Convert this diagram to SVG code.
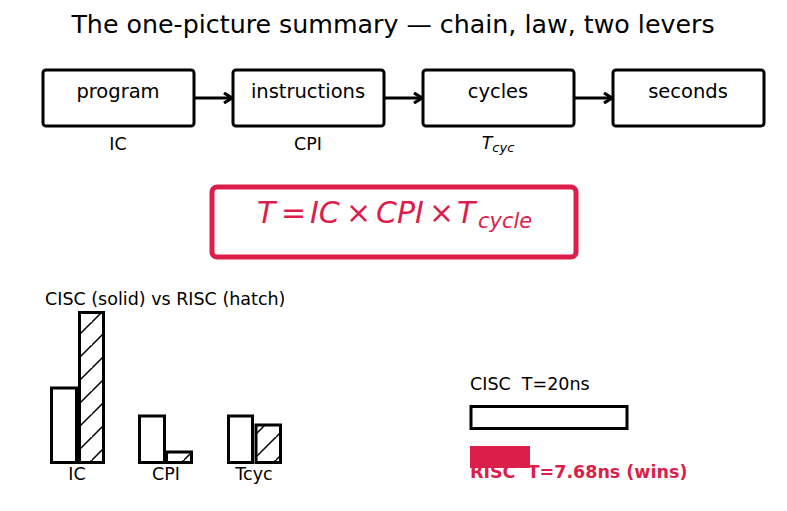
<svg xmlns="http://www.w3.org/2000/svg" width="787" height="511" viewBox="0 0 787 511">
<style>
text{font-family:"DejaVu Sans",sans-serif;fill:#000}
.box{fill:#fff;stroke:#000;stroke-width:3}
.lbl{font-size:19.5px;text-anchor:middle}
.sub{font-size:17.5px;text-anchor:middle}
.bar{fill:#fff;stroke:#000;stroke-width:3}
.hbar{fill:url(#hatch);stroke:#000;stroke-width:3}
.conn{stroke:#000;stroke-width:3;fill:none}
.red{fill:#dc1e4b}
</style>
<defs>
<marker id="arr" viewBox="0 0 12 12" refX="11" refY="6" markerWidth="12" markerHeight="12" markerUnits="userSpaceOnUse" orient="auto">
<path d="M3,1 L11,6 L3,11" fill="none" stroke="#000" stroke-width="3.2" stroke-linejoin="miter"/>
</marker>
<pattern id="hatch" patternUnits="userSpaceOnUse" x="0" y="0" width="23" height="23">
<rect width="23" height="23" fill="#fff"/>
<path d="M-2,25 L25,-2 M-25,25 L2,-2 M21,48 L48,21" stroke="#000" stroke-width="1.5"/>
</pattern>
</defs>
<rect width="787" height="511" fill="#fff"/>
<text x="393" y="33" style="font-size:25.3px;text-anchor:middle">The one-picture summary — chain, law, two levers</text>

<g id="connectors">
<line class="conn" x1="192" y1="98" x2="232" y2="98" marker-end="url(#arr)"/>
<line class="conn" x1="382" y1="98" x2="422" y2="98" marker-end="url(#arr)"/>
<line class="conn" x1="572" y1="98" x2="612" y2="98" marker-end="url(#arr)"/>
</g>

<g id="program">
<rect class="box" x="43" y="70" width="151" height="56" rx="3"/>
<text class="lbl" x="118" y="98">program</text>
<text class="sub" x="118" y="150">IC</text>
</g>
<g id="instructions">
<rect class="box" x="233" y="70" width="151" height="56" rx="3"/>
<text class="lbl" x="308" y="98">instructions</text>
<text class="sub" x="308" y="150">CPI</text>
</g>
<g id="cycles">
<rect class="box" x="423" y="70" width="151" height="56" rx="3"/>
<text class="lbl" x="498" y="98">cycles</text>
<text class="sub" x="498" y="149"><tspan font-style="italic">T</tspan><tspan font-style="italic" font-size="13" dy="3">cyc</tspan></text>
</g>
<g id="seconds">
<rect class="box" x="613" y="70" width="151" height="56" rx="3"/>
<text class="lbl" x="688" y="98">seconds</text>
</g>

<g id="formula">
<rect x="212" y="187" width="364" height="70" rx="5" fill="#fff" stroke="#dc1e4b" stroke-width="5"/>
<text y="223" class="red" style="font-size:30px"><tspan x="257" font-style="italic">T</tspan><tspan x="281">=</tspan><tspan x="310" font-style="italic">IC</tspan><tspan x="346">×</tspan><tspan x="376" font-style="italic">CPI</tspan><tspan x="429">×</tspan><tspan x="457" font-style="italic">T</tspan><tspan x="478" font-style="italic" font-size="21" dy="5">cycle</tspan></text>
</g>

<g id="barchart">
<text x="45" y="305" style="font-size:17.5px">CISC (solid) vs RISC (hatch)</text>
<rect class="bar" x="51.5" y="388" width="25" height="74.5"/>
<rect class="hbar" x="79.5" y="312.5" width="24" height="150"/>
<rect class="bar" x="139.5" y="416" width="25" height="46.5"/>
<rect class="hbar" x="166.5" y="452" width="25" height="10.5"/>
<rect class="bar" x="228.5" y="416" width="24" height="46.5"/>
<rect class="hbar" x="256" y="425" width="24.5" height="37.5"/>
<text class="sub" x="77" y="480">IC</text>
<text class="sub" x="166" y="480">CPI</text>
<text class="sub" x="254" y="480">Tcyc</text>
</g>

<g id="timebars">
<text x="470" y="390" xml:space="preserve" style="font-size:17.5px">CISC  T=20ns</text>
<rect x="471" y="406.5" width="156" height="22" fill="#fff" stroke="#000" stroke-width="3"/>
<text x="470" y="478" xml:space="preserve" class="red" style="font-size:17.5px;font-weight:bold">RISC  T=7.68ns (wins)</text>
<rect x="470" y="446" width="60" height="22" fill="#dc1e4b"/>
</g>
</svg>
